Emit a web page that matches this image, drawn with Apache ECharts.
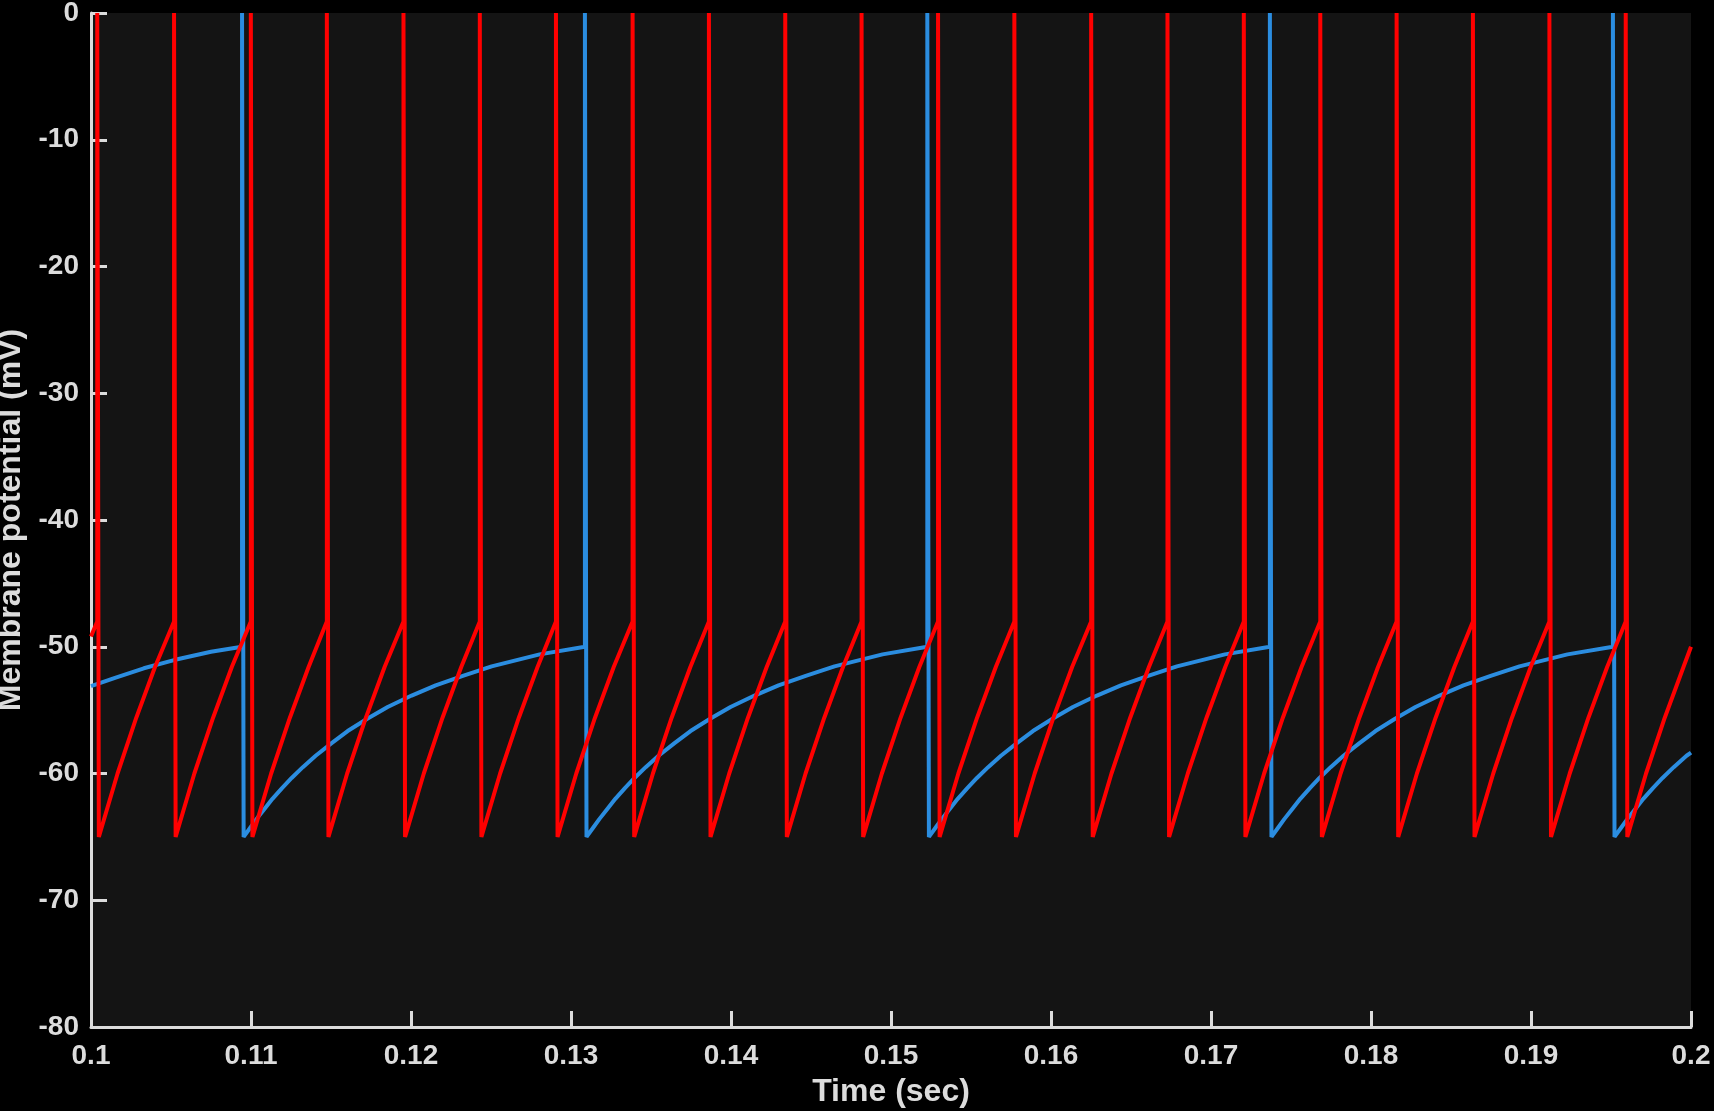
<!DOCTYPE html>
<html lang="en">
<head>
    <meta charset="UTF-8">
    <title>Membrane potential</title>
    <style>
        * {
            margin: 0;
            padding: 0;
        }

        html, body {
            height: 100%;
            width: 100%;
            background: #000;
        }
    </style>
    <script src="https://cdn.jsdelivr.net/npm/echarts@6/dist/echarts.min.js"></script>
</head>
<body>

<div id="main" style="width: 1714px;height: 1111px;"></div>

<script>
    // time (s) and voltage (mV), red neuron
    var redT = [
        0.1, 0.10039, 0.10039,
        0.10049, 0.10166, 0.10283, 0.10400, 0.10519, 0.10519,
        0.10529, 0.10646, 0.10763, 0.10880, 0.10999, 0.10999,
        0.11009, 0.11126, 0.11243, 0.11360, 0.11474, 0.11474,
        0.11484, 0.11601, 0.11718, 0.11835, 0.11953, 0.11953,
        0.11963, 0.12080, 0.12197, 0.12314, 0.12430, 0.12430,
        0.12440, 0.12557, 0.12674, 0.12791, 0.12906, 0.12906,
        0.12916, 0.13033, 0.13150, 0.13267, 0.13385, 0.13385,
        0.13395, 0.13512, 0.13629, 0.13746, 0.13862, 0.13862,
        0.13872, 0.13989, 0.14106, 0.14223, 0.14339, 0.14339,
        0.14349, 0.14466, 0.14583, 0.14700, 0.14816, 0.14816,
        0.14826, 0.14943, 0.15060, 0.15177, 0.15294, 0.15294,
        0.15304, 0.15421, 0.15538, 0.15655, 0.15771, 0.15771,
        0.15781, 0.15898, 0.16015, 0.16132, 0.16251, 0.16251,
        0.16261, 0.16378, 0.16495, 0.16612, 0.16728, 0.16728,
        0.16738, 0.16855, 0.16972, 0.17089, 0.17205, 0.17205,
        0.17215, 0.17332, 0.17449, 0.17566, 0.17683, 0.17683,
        0.17693, 0.17810, 0.17927, 0.18044, 0.18160, 0.18160,
        0.18170, 0.18287, 0.18404, 0.18521, 0.18637, 0.18637,
        0.18647, 0.18764, 0.18881, 0.18998, 0.19115, 0.19115,
        0.19125, 0.19242, 0.19359, 0.19476, 0.19592, 0.19592,
        0.19602, 0.19719, 0.19836, 0.19953, 0.2
    ];
    var redV = [
        -49.2, -48, 0,
        -65, -60.0, -55.6, -51.6, -48, 0,
        -65, -60.0, -55.6, -51.6, -48, 0,
        -65, -60.0, -55.6, -51.6, -48, 0,
        -65, -60.0, -55.6, -51.6, -48, 0,
        -65, -60.0, -55.6, -51.6, -48, 0,
        -65, -60.0, -55.6, -51.6, -48, 0,
        -65, -60.0, -55.6, -51.6, -48, 0,
        -65, -60.0, -55.6, -51.6, -48, 0,
        -65, -60.0, -55.6, -51.6, -48, 0,
        -65, -60.0, -55.6, -51.6, -48, 0,
        -65, -60.0, -55.6, -51.6, -48, 0,
        -65, -60.0, -55.6, -51.6, -48, 0,
        -65, -60.0, -55.6, -51.6, -48, 0,
        -65, -60.0, -55.6, -51.6, -48, 0,
        -65, -60.0, -55.6, -51.6, -48, 0,
        -65, -60.0, -55.6, -51.6, -48, 0,
        -65, -60.0, -55.6, -51.6, -48, 0,
        -65, -60.0, -55.6, -51.6, -48, 0,
        -65, -60.0, -55.6, -51.6, -48, 0,
        -65, -60.0, -55.6, -51.6, -48, 0,
        -65, -60.0, -55.6, -51.6, -50.0
    ];

    // blue neuron
    var blueT = [
        0.1, 0.1015, 0.1033, 0.10519, 0.1075, 0.10944, 0.10944,
        0.10954, 0.10994, 0.11034, 0.11084, 0.11134, 0.11194, 0.11254, 0.11324, 0.11404, 0.11504,
        0.11604, 0.11724, 0.11854, 0.12004, 0.12154, 0.12324, 0.12504, 0.12804, 0.13087, 0.13087,
        0.13097, 0.13137, 0.13177, 0.13227, 0.13277, 0.13337, 0.13397, 0.13467, 0.13547, 0.13647,
        0.13747, 0.13867, 0.13997, 0.14147, 0.14297, 0.14467, 0.14647, 0.14947, 0.15227, 0.15227,
        0.15237, 0.15277, 0.15317, 0.15367, 0.15417, 0.15477, 0.15537, 0.15607, 0.15687, 0.15787,
        0.15887, 0.16007, 0.16137, 0.16287, 0.16437, 0.16607, 0.16787, 0.17087, 0.17368, 0.17368,
        0.17378, 0.17418, 0.17458, 0.17508, 0.17558, 0.17618, 0.17678, 0.17748, 0.17828, 0.17928,
        0.18028, 0.18148, 0.18278, 0.18428, 0.18578, 0.18748, 0.18928, 0.19228, 0.19512, 0.19512,
        0.19522, 0.19562, 0.19602, 0.19652, 0.19702, 0.19762, 0.19822, 0.19892, 0.19972, 0.2
    ];
    var blueV = [
        -53.1, -52.45, -51.7, -51.05, -50.4, -50.0, 0,
        -65, -64.3, -63.6, -62.8, -62.0, -61.15, -60.35, -59.5, -58.6, -57.6,
        -56.65, -55.7, -54.75, -53.85, -53.05, -52.3, -51.55, -50.6, -50.0, 0,
        -65, -64.3, -63.6, -62.8, -62.0, -61.15, -60.35, -59.5, -58.6, -57.6,
        -56.65, -55.7, -54.75, -53.85, -53.05, -52.3, -51.55, -50.6, -50.0, 0,
        -65, -64.3, -63.6, -62.8, -62.0, -61.15, -60.35, -59.5, -58.6, -57.6,
        -56.65, -55.7, -54.75, -53.85, -53.05, -52.3, -51.55, -50.6, -50.0, 0,
        -65, -64.3, -63.6, -62.8, -62.0, -61.15, -60.35, -59.5, -58.6, -57.6,
        -56.65, -55.7, -54.75, -53.85, -53.05, -52.3, -51.55, -50.6, -50.0, 0,
        -65, -64.3, -63.6, -62.8, -62.0, -61.15, -60.35, -59.5, -58.6, -58.35
    ];

    var xTicks = [0.1, 0.11, 0.12, 0.13, 0.14, 0.15, 0.16, 0.17, 0.18, 0.19, 0.2];
    var yTicks = [0, -10, -20, -30, -40, -50, -60, -70, -80];

    function pairs(t, v) {
        var out = [];
        for (var i = 0; i < t.length; i++) out.push([t[i], v[i]]);
        return out;
    }

    var axisColor = '#dcdcdc';
    var fontFamily = '"Liberation Sans", Arial, Helvetica, sans-serif';
    var labelFont = {
        color: axisColor,
        fontSize: 28,
        fontWeight: 'bold',
        fontFamily: fontFamily
    };
    var nameFont = {
        color: axisColor,
        fontSize: 32,
        fontWeight: 'bold',
        fontFamily: fontFamily
    };

    var myChart = echarts.init(document.getElementById('main'));

    var option = {
        backgroundColor: '#000',
        animation: false,
        grid: {
            left: 91,
            right: 23,
            top: 13,
            bottom: 84,
            containLabel: false,
            outerBoundsMode: 'none',
            show: true,
            backgroundColor: '#141414',
            borderWidth: 0
        },
        xAxis: {
            type: 'value',
            min: xTicks[0],
            max: xTicks[xTicks.length - 1],
            interval: 0.01,
            name: 'Time (sec)',
            nameLocation: 'middle',
            nameGap: 49,
            nameTextStyle: nameFont,
            axisLine: {show: true, onZero: false, lineStyle: {color: axisColor, width: 3}},
            axisTick: {show: true, inside: true, length: 16, lineStyle: {color: axisColor, width: 3}},
            axisLabel: Object.assign({
                margin: 15,
                formatter: function (v) { return String(+v.toFixed(2)); }
            }, labelFont),
            splitLine: {show: false}
        },
        yAxis: {
            type: 'value',
            min: yTicks[yTicks.length - 1],
            max: yTicks[0],
            interval: 10,
            name: 'Membrane potential (mV)',
            nameLocation: 'middle',
            nameGap: 57,
            nameTextStyle: nameFont,
            axisLine: {show: true, onZero: false, lineStyle: {color: axisColor, width: 3}},
            axisTick: {show: true, inside: true, length: 16, lineStyle: {color: axisColor, width: 3}},
            axisLabel: Object.assign({margin: 12}, labelFont),
            splitLine: {show: false}
        },
        series: [
            {
                name: 'blue',
                type: 'line',
                symbol: 'none',
                data: pairs(blueT, blueV),
                lineStyle: {color: '#2b8de0', width: 4, join: 'bevel'}
            },
            {
                name: 'red',
                type: 'line',
                symbol: 'none',
                data: pairs(redT, redV),
                lineStyle: {color: '#ff0000', width: 4, join: 'bevel'}
            }
        ]
    };
    myChart.setOption(option);
</script>

</body>
</html>
